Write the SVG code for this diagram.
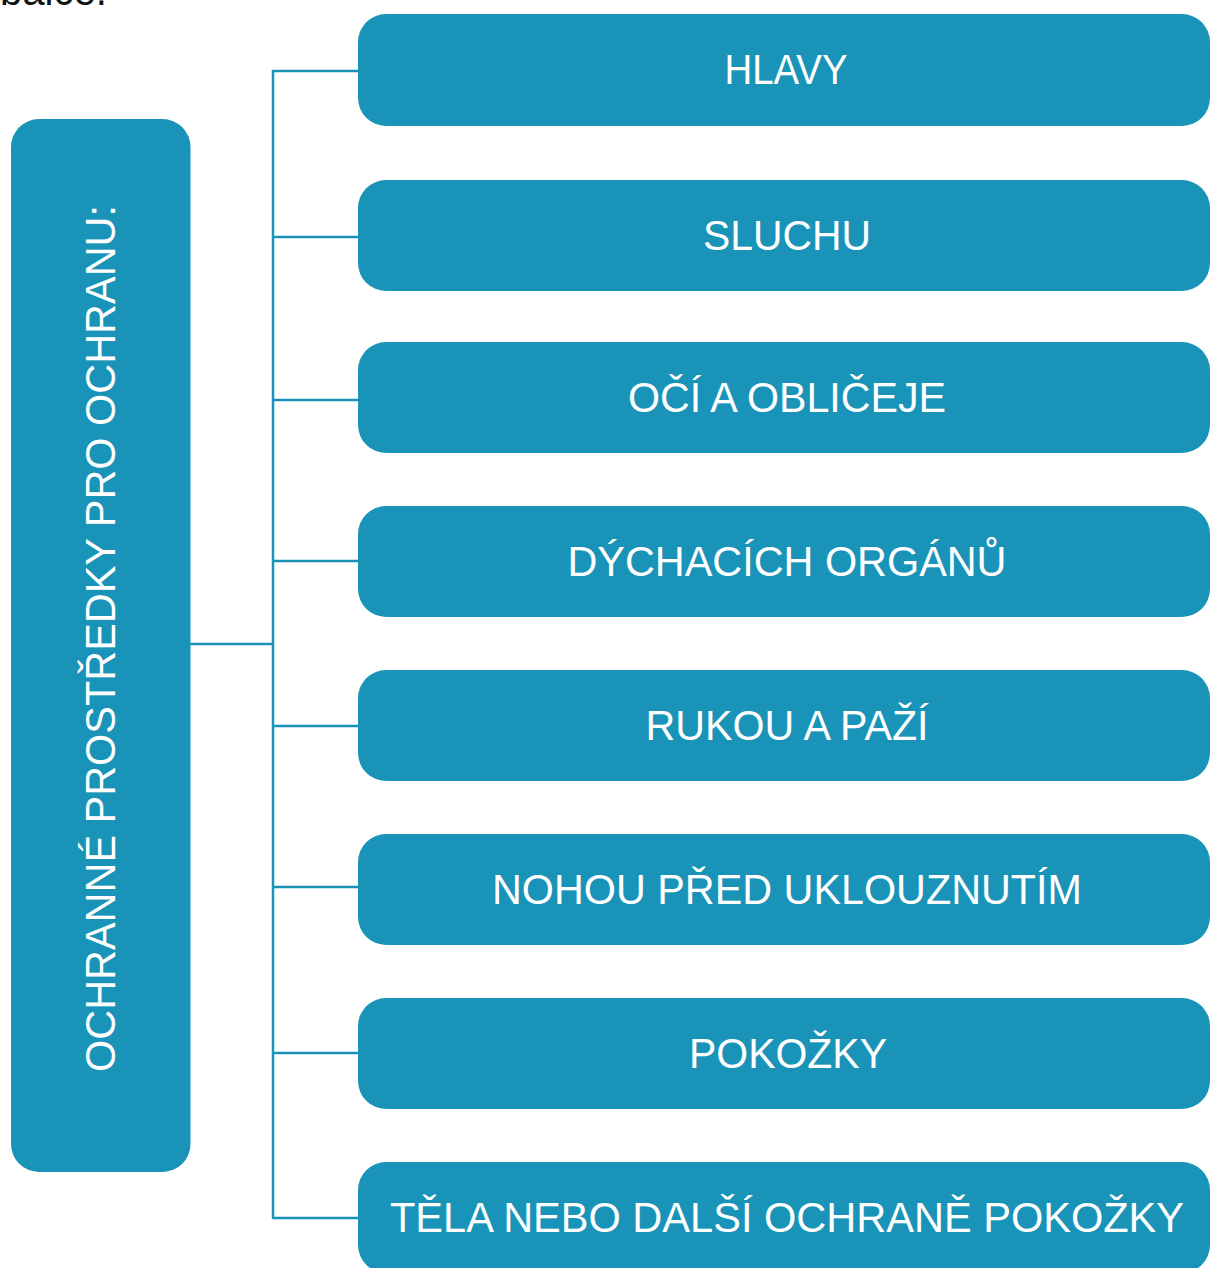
<svg xmlns="http://www.w3.org/2000/svg" width="1210" height="1268" viewBox="0 0 1210 1268">
  <style>
    .box { fill: #1994B8; }
    .lbl { fill: #ffffff; font-family: "Liberation Sans", Arial, sans-serif; font-size: 42px; text-anchor: middle; }
    .conn { stroke: #1994B8; stroke-width: 2.5; fill: none; }
  </style>
  <rect width="1210" height="1268" fill="#ffffff"/>
  <text x="0" y="5" font-family="Liberation Sans, Arial, sans-serif" font-size="42" fill="#111111" textLength="107" lengthAdjust="spacingAndGlyphs">balce.</text>

  <g id="connectors">
    <line class="conn" x1="190" y1="644" x2="273" y2="644"/>
    <line class="conn" x1="273" y1="70" x2="273" y2="1219"/>
    <line class="conn" x1="273" y1="71" x2="360" y2="71"/>
    <line class="conn" x1="273" y1="237" x2="360" y2="237"/>
    <line class="conn" x1="273" y1="400" x2="360" y2="400"/>
    <line class="conn" x1="273" y1="561" x2="360" y2="561"/>
    <line class="conn" x1="273" y1="726" x2="360" y2="726"/>
    <line class="conn" x1="273" y1="887" x2="360" y2="887"/>
    <line class="conn" x1="273" y1="1053" x2="360" y2="1053"/>
    <line class="conn" x1="273" y1="1218" x2="360" y2="1218"/>
  </g>

  <g id="root">
    <rect class="box" x="11" y="119" width="179.5" height="1053" rx="28" ry="28"/>
    <text class="lbl" font-size="41" transform="translate(115,638.5) rotate(-90)" textLength="867" lengthAdjust="spacingAndGlyphs">OCHRANNÉ PROSTŘEDKY PRO OCHRANU:</text>
  </g>

  <g id="n1">
    <rect class="box" x="358" y="14" width="852" height="112" rx="28" ry="28"/>
    <text class="lbl" x="786" y="84" textLength="123" lengthAdjust="spacingAndGlyphs">HLAVY</text>
  </g>
  <g id="n2">
    <rect class="box" x="358" y="180" width="852" height="111" rx="28" ry="28"/>
    <text class="lbl" x="787" y="250" textLength="168" lengthAdjust="spacingAndGlyphs">SLUCHU</text>
  </g>
  <g id="n3">
    <rect class="box" x="358" y="342" width="852" height="111" rx="28" ry="28"/>
    <text class="lbl" x="787" y="412" textLength="318" lengthAdjust="spacingAndGlyphs">OČÍ A OBLIČEJE</text>
  </g>
  <g id="n4">
    <rect class="box" x="358" y="506" width="852" height="111" rx="28" ry="28"/>
    <text class="lbl" x="787" y="576" textLength="439" lengthAdjust="spacingAndGlyphs">DÝCHACÍCH ORGÁNŮ</text>
  </g>
  <g id="n5">
    <rect class="box" x="358" y="670" width="852" height="111" rx="28" ry="28"/>
    <text class="lbl" x="787" y="740" textLength="283" lengthAdjust="spacingAndGlyphs">RUKOU A PAŽÍ</text>
  </g>
  <g id="n6">
    <rect class="box" x="358" y="834" width="852" height="111" rx="28" ry="28"/>
    <text class="lbl" x="787" y="904" textLength="590" lengthAdjust="spacingAndGlyphs">NOHOU PŘED UKLOUZNUTÍM</text>
  </g>
  <g id="n7">
    <rect class="box" x="358" y="998" width="852" height="111" rx="28" ry="28"/>
    <text class="lbl" x="788" y="1068" textLength="198" lengthAdjust="spacingAndGlyphs">POKOŽKY</text>
  </g>
  <g id="n8">
    <rect class="box" x="358" y="1162" width="852" height="111" rx="28" ry="28"/>
    <text class="lbl" x="787" y="1232" textLength="794" lengthAdjust="spacingAndGlyphs">TĚLA NEBO DALŠÍ OCHRANĚ POKOŽKY</text>
  </g>
</svg>
